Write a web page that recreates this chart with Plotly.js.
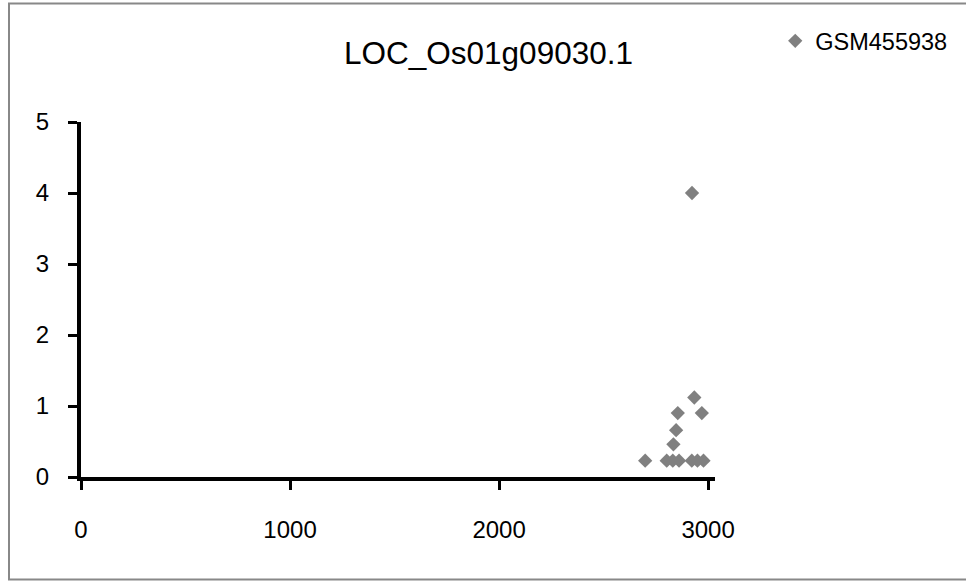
<!DOCTYPE html>
<html>
<head>
<meta charset="utf-8">
<script src="https://cdn.plot.ly/plotly-3.0.1.min.js"></script>
<style>html,body{margin:0;padding:0;background:#fff;}#chart{width:966px;height:581px;}</style>
</head>
<body>
<div id="chart"></div>
<script>
const seriesName = "GSM455938";
const chartTitle = "LOC_Os01g09030.1";
const xValues = [2699, 2802, 2831, 2861, 2922, 2949, 2978, 2834, 2847, 2855, 2934, 2970, 2923];
const yValues = [0.23, 0.23, 0.23, 0.23, 0.23, 0.23, 0.23, 0.46, 0.66, 0.90, 1.12, 0.90, 4.0];
const xTicks = [0, 1000, 2000, 3000];
const yTicks = [0, 1, 2, 3, 4, 5];

const font = "Liberation Sans, Arial, sans-serif";
const trace = {
  x: xValues, y: yValues, type: "scatter", mode: "markers", name: seriesName,
  marker: {symbol: "diamond", size: 11, color: "#808080", line: {width: 0}}
};
const layout = {
  width: 966, height: 581,
  margin: {l: 81, r: 251, t: 122, b: 104},
  paper_bgcolor: "#fff", plot_bgcolor: "#fff",
  font: {family: font, color: "#000", size: 24},
  title: {text: chartTitle, font: {family: font, size: 31.5, color: "#000"},
          xref: "container", x: 0.5057, xanchor: "center", yref: "container", y: 1 - 53/581, yanchor: "middle"},
  showlegend: true,
  legend: {x: 1.095, xanchor: "left", y: 1.29, yanchor: "top", font: {size: 23.5, family: font}, bgcolor: "rgba(0,0,0,0)", itemwidth: 30},
  xaxis: {range: [0, 3033], tickvals: xTicks, ticktext: xTicks.map(String), showgrid: false, zeroline: false,
          showline: true, linecolor: "#000", linewidth: 4, ticks: "outside", ticklen: 9, tickwidth: 3, tickcolor: "#000",
          ticklabelstandoff: 19, tickfont: {size: 24, family: font}, fixedrange: true},
  yaxis: {range: [0, 5], tickvals: yTicks, ticktext: yTicks.map(String), showgrid: false, zeroline: false,
          showline: true, linecolor: "#000", linewidth: 4, ticks: "outside", ticklen: 9, tickwidth: 3, tickcolor: "#000",
          ticklabelstandoff: 14, tickfont: {size: 24, family: font}, fixedrange: true},
  shapes: [{type: "rect", xref: "paper", yref: "paper",
            x0: (9-81)/634, x1: (975-81)/634, y0: (477-579.5)/355, y1: (477-3.5)/355,
            line: {color: "#888", width: 2}, fillcolor: "rgba(0,0,0,0)", layer: "below"}]
};
Plotly.newPlot("chart", [trace], layout, {displayModeBar: false, staticPlot: true});
</script>
</body>
</html>
